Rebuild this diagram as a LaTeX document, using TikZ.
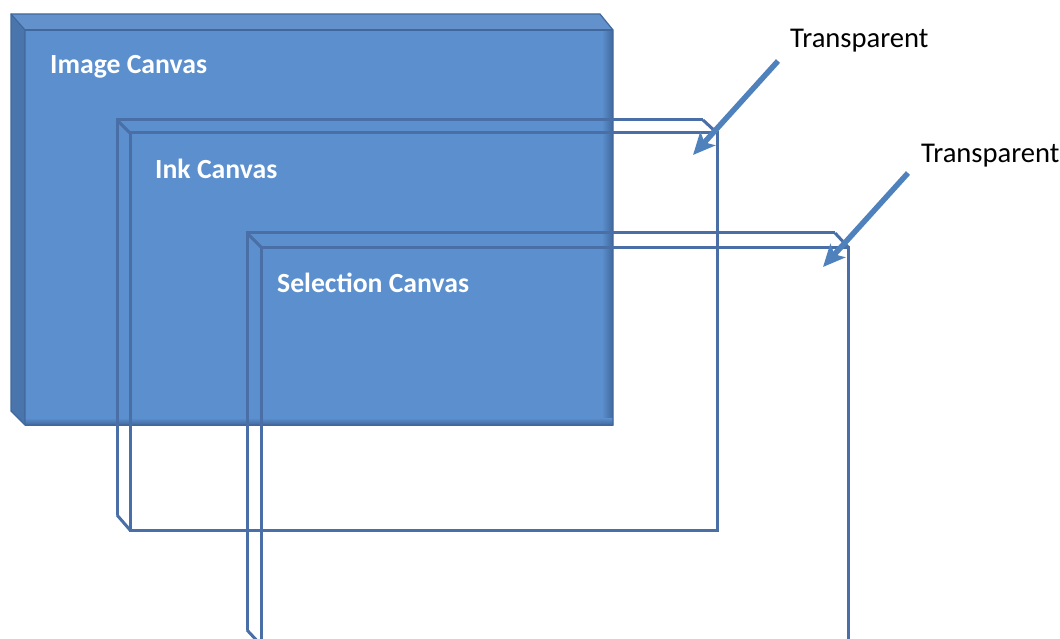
\documentclass[tikz,border=0pt]{standalone}
\usepackage{fontspec}
\setmainfont{Carlito}
\usetikzlibrary{arrows.meta}
\definecolor{facefill}{HTML}{5B8FCE}
\definecolor{topfill}{HTML}{6291CC}
\definecolor{sidefill}{HTML}{4A74AC}
\definecolor{boxedge}{HTML}{41689D}
\definecolor{frameline}{HTML}{4A6FA6}
\definecolor{arrowblue}{HTML}{4F81BD}
\tikzset{
  framepen/.style={draw=frameline, line width=3pt, line join=miter},
  whitelabel/.style={anchor=base west, inner sep=0pt, text=white, font=\fontsize{27.7}{30}\selectfont\bfseries},
  blacklabel/.style={anchor=base west, inner sep=0pt, text=black, font=\fontsize{28.6}{31}\selectfont},
  pointer/.style={draw=arrowblue, line width=5.5pt, -{Stealth[length=22pt, width=20pt, inset=5pt]}}
}
\begin{document}
\begin{tikzpicture}[x=1pt, y=-1pt]
  \useasboundingbox (0,0) rectangle (1060,639);
  \clip (0,0) rectangle (1060,639);

  % Image canvas: solid bevelled block
  \fill[sidefill] (11,14) -- (25,30) -- (25,425) -- (11,411) -- cycle;
  \fill[topfill] (11,14) -- (600,14) -- (613,30) -- (25,30) -- cycle;
  \fill[facefill] (25,30) rectangle (613,425);
  \shade[left color=facefill, right color=boxedge] (602,30) rectangle (613,425);
  \shade[top color=facefill, bottom color=boxedge] (25,418) rectangle (613,425);
  \draw[boxedge, line width=2pt] (25,30) -- (613,30);
  \draw[boxedge, line width=1.2pt, line join=miter]
    (11,14) -- (600,14) -- (613,30) -- (613,425) -- (25,425) -- (11,411) -- cycle;
  \draw[boxedge, line width=1.2pt] (11,14) -- (25,30) -- (25,425);

  % Ink canvas: open frame
  \draw[framepen] (130,133) rectangle (717,530);
  \draw[framepen] (117,515) -- (117,120) -- (703,120);
  \draw[framepen] (117,120) -- (130,133);
  \draw[framepen] (703,120) -- (717,133);
  \draw[framepen] (117,515) -- (130,530);

  % Selection canvas: open frame
  \draw[framepen] (261,247) rectangle (848,645);
  \draw[framepen] (247,630) -- (247,233) -- (835,233);
  \draw[framepen] (247,233) -- (261,247);
  \draw[framepen] (835,233) -- (848,247);
  \draw[framepen] (247,630) -- (261,645);

  % Labels
  \node[whitelabel] (imagelbl) at (50,74) {Image Canvas};
  \node[whitelabel] (inklbl) at (155,179) {Ink Canvas};
  \node[whitelabel] (sellbl) at (277,292) {Selection Canvas};
  \node[blacklabel] (transA) at (790,48) {Transparent};
  \node[blacklabel] (transB) at (921,163) {Transparent};

  % Pointers
  \coordinate (tailA) at (778,61);
  \coordinate (tipA) at (693,155);
  \coordinate (tailB) at (908,173);
  \coordinate (tipB) at (823,267);
  \draw[pointer] (tailA) -- (tipA);
  \draw[pointer] (tailB) -- (tipB);
\end{tikzpicture}
\end{document}
